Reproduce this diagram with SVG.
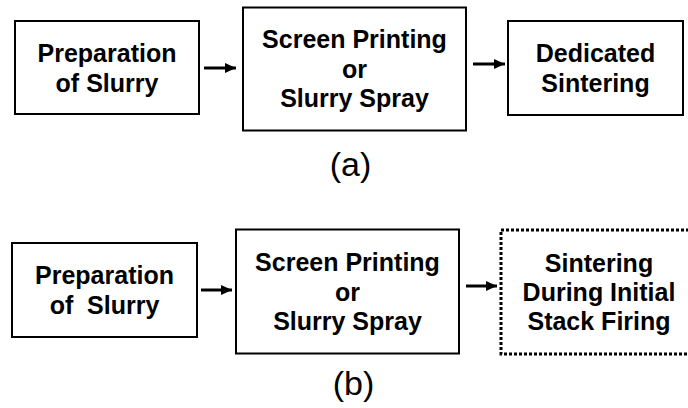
<svg xmlns="http://www.w3.org/2000/svg" width="688" height="408" viewBox="0 0 688 408">
<style>
.box{fill:#fff;stroke:#000;stroke-width:2}
.dot{fill:#fff;stroke:#000;stroke-width:3;stroke-dasharray:3 2}
.t{font-family:"Liberation Sans",Arial,sans-serif;font-weight:bold;font-size:25px;text-anchor:middle;fill:#000}
.lbl{font-family:"Liberation Sans",Arial,sans-serif;font-size:34px;text-anchor:middle;fill:#000}
.arr{stroke:#000;stroke-width:3;fill:none;marker-end:url(#ah)}
</style>
<defs>
<marker id="ah" markerUnits="userSpaceOnUse" markerWidth="12" markerHeight="10" refX="11" refY="5" orient="auto">
<path d="M0,0 L11,5 L0,10 z" fill="#000"/>
</marker>
</defs>
<g id="a1">
<rect class="box" x="15" y="21" width="184" height="93"/>
<text class="t" x="107" y="62">Preparation</text>
<text class="t" x="107" y="92">of Slurry</text>
</g>
<g id="a2">
<rect class="box" x="243" y="7.5" width="223" height="123"/>
<text class="t" x="354.5" y="48">Screen Printing</text>
<text class="t" x="354.5" y="77.5">or</text>
<text class="t" x="354.5" y="107">Slurry Spray</text>
</g>
<g id="a3">
<rect class="box" x="508" y="21" width="175" height="94"/>
<text class="t" x="595.5" y="62">Dedicated</text>
<text class="t" x="595.5" y="92">Sintering</text>
</g>
<g id="b1">
<rect class="box" x="12" y="243" width="185" height="94"/>
<text class="t" x="104.5" y="283.5">Preparation</text>
<text class="t" x="104.5" y="313.5">of&#160; Slurry</text>
</g>
<g id="b2">
<rect class="box" x="236" y="229.5" width="223" height="124"/>
<text class="t" x="347.5" y="271">Screen Printing</text>
<text class="t" x="347.5" y="300.5">or</text>
<text class="t" x="347.5" y="330">Slurry Spray</text>
</g>
<g id="b3">
<rect class="dot" x="501" y="230" width="196" height="124"/>
<text class="t" x="599" y="271.5">Sintering</text>
<text class="t" x="599" y="300.5">During Initial</text>
<text class="t" x="599" y="330">Stack Firing</text>
</g>
<g id="labels">
<text class="lbl" x="350.5" y="176">(a)</text>
<text class="lbl" x="353.5" y="395">(b)</text>
</g>
<g id="connectors">
<line class="arr" x1="204" y1="68" x2="236" y2="68"/>
<line class="arr" x1="473" y1="64" x2="505" y2="64"/>
<line class="arr" x1="201" y1="290" x2="232" y2="290"/>
<line class="arr" x1="466" y1="286" x2="497" y2="286"/>
</g>
</svg>
